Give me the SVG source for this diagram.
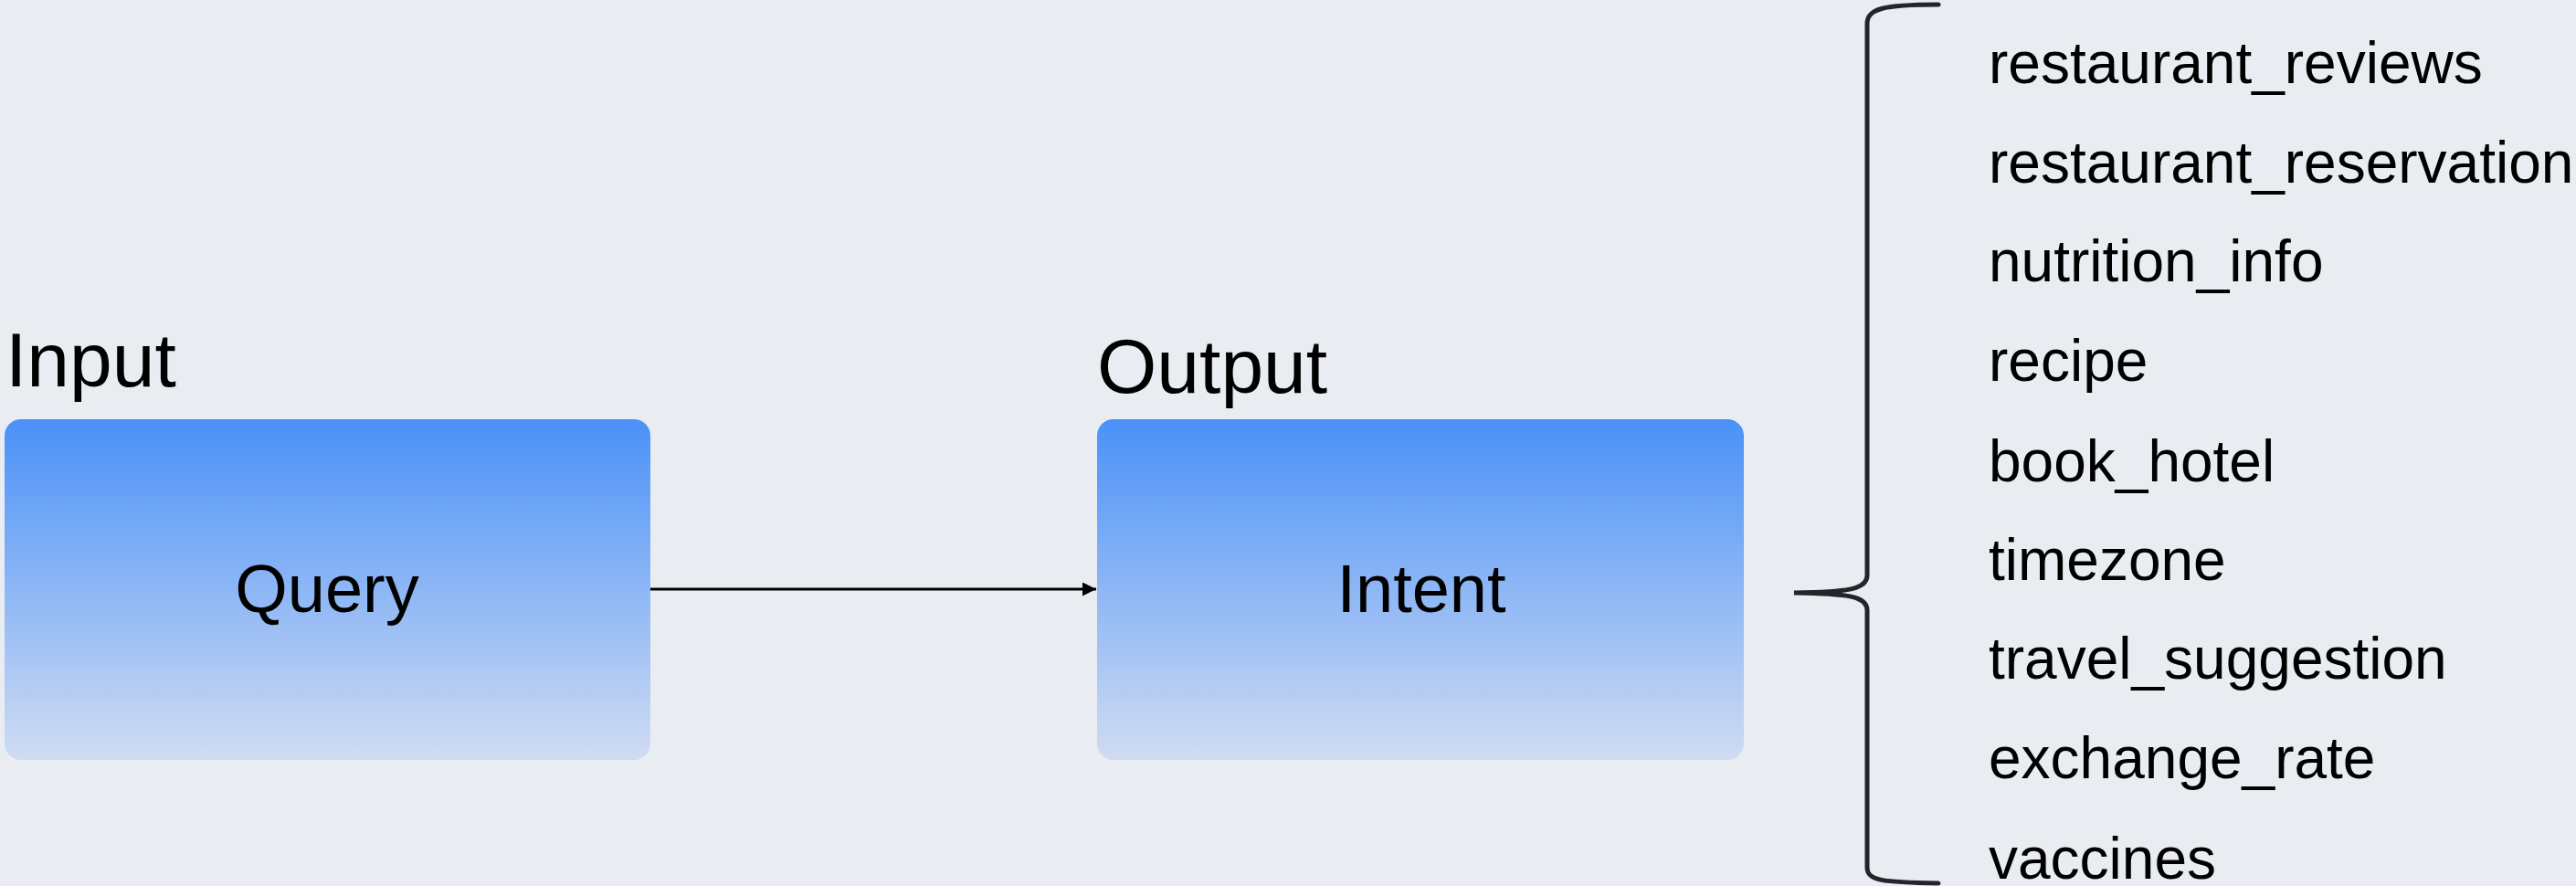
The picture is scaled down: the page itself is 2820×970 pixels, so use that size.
<svg xmlns="http://www.w3.org/2000/svg" width="2820" height="970" viewBox="0 0 2820 970">
<defs>
<linearGradient id="boxGrad" x1="0" y1="0" x2="0" y2="1">
<stop offset="0" stop-color="#4a91f8"/>
<stop offset="1" stop-color="#d0dcf2"/>
</linearGradient>
<marker id="arrow" viewBox="0 0 10 10" refX="10" refY="5" markerWidth="5" markerHeight="5" orient="auto" markerUnits="strokeWidth">
<path d="M0,0 L10,5 L0,10 z" fill="#000"/>
</marker>
<style>
.box{fill:url(#boxGrad);}
.lbl{font-family:"Liberation Sans",Arial,sans-serif;fill:#000;}
.title{font-size:84px;}
.node{font-size:74px;text-anchor:middle;}
.item{font-size:64px;}
.conn{stroke:#000;stroke-width:3;fill:none;}
.brace{stroke:#22262b;stroke-width:5;fill:none;stroke-linecap:round;}
</style>
</defs>
<rect width="2820" height="970" fill="#e9edf1"/>
<g id="input-label"><text class="lbl title" x="6" y="423">Input</text></g>
<g id="output-label"><text class="lbl title" x="1201" y="430">Output</text></g>
<g id="query">
<rect class="box" x="5" y="459" width="707" height="373" rx="18"/>
<text class="lbl node" x="358" y="670">Query</text>
</g>
<g id="intent">
<rect class="box" x="1201" y="459" width="708" height="373" rx="18"/>
<text class="lbl node" x="1556" y="670">Intent</text>
</g>
<g id="connectors">
<line class="conn" x1="712" y1="645" x2="1200" y2="645" marker-end="url(#arrow)"/>
<path class="brace" d="M2122,5 C2060,5 2044,10 2044,26 L2044,630 C2044,646 2020,648 1964,649 C2020,650 2044,652 2044,668 L2044,950 C2044,964 2060,966 2122,967"/>
</g>
<g id="intents">
<text class="lbl item" x="2177" y="91">restaurant_reviews</text>
<text class="lbl item" x="2177" y="200">restaurant_reservation</text>
<text class="lbl item" x="2177" y="308">nutrition_info</text>
<text class="lbl item" x="2177" y="417">recipe</text>
<text class="lbl item" x="2177" y="527">book_hotel</text>
<text class="lbl item" x="2177" y="635">timezone</text>
<text class="lbl item" x="2177" y="743">travel_suggestion</text>
<text class="lbl item" x="2177" y="852">exchange_rate</text>
<text class="lbl item" x="2177" y="962">vaccines</text>
</g>
</svg>
